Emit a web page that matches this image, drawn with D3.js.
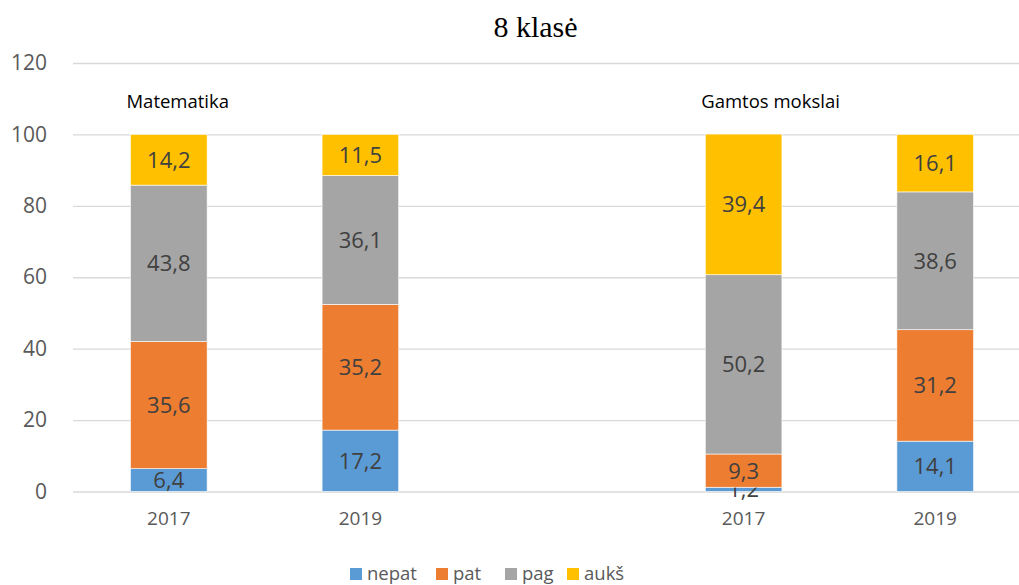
<!DOCTYPE html>
<html>
<head>
<meta charset="utf-8">
<script src="https://cdn.jsdelivr.net/npm/d3@7"></script>
<style>
  body { margin: 0; background: #fff; }
  svg text { font-family: "Open Sans", "Noto Sans", sans-serif; }
</style>
</head>
<body>
<div id="chart"></div>
<script>
// --- DATA ---
const slots = ["m2017", "m2019", "gap", "g2017", "g2019"];
const slotLabels = ["2017", "2019", "", "2017", "2019"];
const seriesNames = ["nepat", "pat", "pag", "aukš"];
const seriesColors = ["#5B9BD5", "#ED7D31", "#A5A5A5", "#FFC000"];
const nepat = [6.4, 17.2, null, 1.2, 14.1];
const pat = [35.6, 35.2, null, 9.3, 31.2];
const pag = [43.8, 36.1, null, 50.2, 38.6];
const auks = [14.2, 11.5, null, 39.4, 16.1];
const groupNames = ["Matematika", "Gamtos mokslai"];
const groupSlots = ["m2017", "g2017"];
const yTicks = [0, 20, 40, 60, 80, 100, 120];

const W = 1019, H = 585;
const svg = d3.select("#chart").append("svg").attr("width", W).attr("height", H);

// --- SCALES ---
const x = d3.scaleBand().domain(slots).range([73, 1031]).paddingInner(0.6).paddingOuter(0.3);
const y = d3.scaleLinear().domain([0, 120]).range([491.5, 63]);

// --- GRID + Y AXIS ---
const yAxis = d3.axisLeft(y).tickValues(yTicks).tickSize(-(1031 - 73)).tickPadding(26);
const gy = svg.append("g").attr("transform", "translate(73,0)").call(yAxis);
gy.select(".domain").remove();
gy.selectAll(".tick line").attr("stroke", "#D9D9D9").attr("stroke-width", 1.3);
gy.selectAll(".tick text").attr("fill", "#595959").style("font-size", "21px");

// --- STACKED BARS ---
const rows = slots.map((s, i) => ({ slot: s, nepat: nepat[i], pat: pat[i], pag: pag[i], "aukš": auks[i] }))
  .filter(r => r.nepat !== null);
const stack = d3.stack().keys(seriesNames)(rows);
const color = d3.scaleOrdinal().domain(seriesNames).range(seriesColors);

const layers = svg.append("g").selectAll("g").data(stack).enter().append("g")
  .attr("fill", d => color(d.key));
layers.selectAll("rect").data(d => d).enter().append("rect")
  .attr("x", d => x(d.data.slot))
  .attr("width", x.bandwidth())
  .attr("y", d => y(d[1]))
  .attr("height", d => y(d[0]) - y(d[1]))
  .attr("stroke", "#fff").attr("stroke-width", 0.6);

// data labels
layers.selectAll("text").data(d => d).enter().append("text")
  .attr("x", d => x(d.data.slot) + x.bandwidth() / 2)
  .attr("y", d => (y(d[0]) + y(d[1])) / 2)
  .attr("dy", "0.36em")
  .attr("text-anchor", "middle")
  .attr("fill", "#404040")
  .style("font-size", "22px")
  .text(d => String(Math.round((d[1] - d[0]) * 10) / 10).replace(".", ","));

// --- X AXIS LABELS ---
const xAxis = d3.axisBottom(x).tickSize(0).tickPadding(20).tickFormat((d, i) => slotLabels[i]);
const gx = svg.append("g").attr("transform", "translate(0,491.5)").call(xAxis);
gx.select(".domain").remove();
gx.selectAll(".tick text").attr("fill", "#595959").style("font-size", "19px");

// --- GROUP LABELS ---
svg.append("g").selectAll("text").data(groupNames).enter().append("text")
  .attr("x", (d, i) => x(groupSlots[i]) - 4)
  .attr("y", 108)
  .attr("fill", "#000")
  .style("font-size", "18.5px")
  .text(d => d);

// --- TITLE ---
svg.append("text").attr("x", 535.5).attr("y", 37).attr("text-anchor", "middle")
  .style("font-family", "'Liberation Serif', 'DejaVu Serif', serif").style("font-size", "30px")
  .attr("fill", "#000").text("8 klasė");

// --- LEGEND ---
const legX = [350, 436, 505, 567];
const legend = svg.append("g").selectAll("g").data(seriesNames).enter().append("g")
  .attr("transform", (d, i) => `translate(${legX[i]},568)`);
legend.append("rect").attr("width", 12).attr("height", 12).attr("fill", d => color(d));
legend.append("text").attr("x", 17).attr("y", 12).attr("fill", "#595959")
  .style("font-size", "18.5px").text(d => d);
</script>
</body>
</html>
